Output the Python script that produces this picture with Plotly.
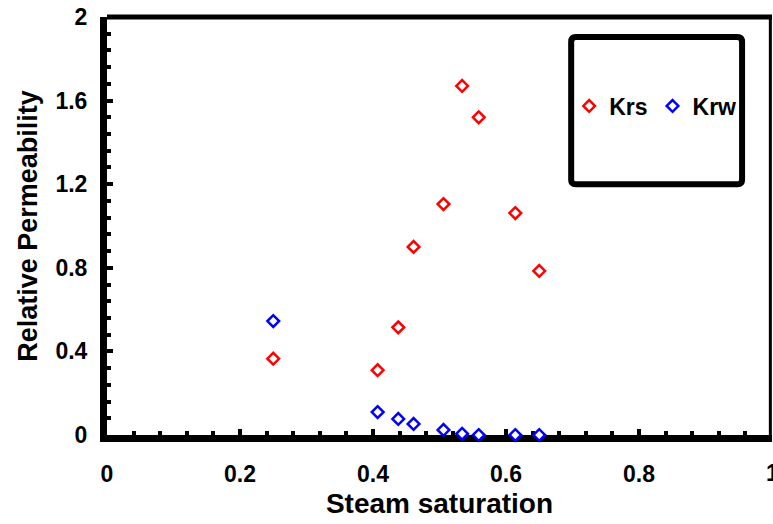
import plotly.graph_objects as go

steam_sat = [0.25, 0.407, 0.438, 0.461, 0.506, 0.534, 0.559, 0.614, 0.65]
krs = [0.365, 0.31, 0.515, 0.90, 1.105, 1.67, 1.52, 1.062, 0.785]
krw = [0.545, 0.11, 0.077, 0.053, 0.024, 0.006, 0.0, 0.0, 0.0]

x_ticks = [0, 0.2, 0.4, 0.6, 0.8, 1]
x_labels = ["0", "0.2", "0.4", "0.6", "0.8", "1"]
y_ticks = [0, 0.4, 0.8, 1.2, 1.6, 2]
y_labels = ["0", "0.4", "0.8", "1.2", "1.6", "2"]

FONT = "Liberation Sans, Arial, sans-serif"
TICKFONT = dict(family=FONT, size=23, color="black", weight="bold")

fig = go.Figure()
fig.add_trace(go.Scatter(x=steam_sat, y=krs, mode="markers", name="Krs", cliponaxis=False,
                         marker=dict(symbol="diamond", size=9, color="white",
                                     line=dict(width=2.5, color="#ff0000"))))
fig.add_trace(go.Scatter(x=steam_sat, y=krw, mode="markers", name="Krw", cliponaxis=False,
                         marker=dict(symbol="diamond", size=9, color="white",
                                     line=dict(width=2.5, color="#0000ff"))))

fig.update_layout(
    width=773, height=524,
    margin=dict(l=107, r=1, t=17, b=89),
    paper_bgcolor="white", plot_bgcolor="white",
    font=dict(family=FONT, color="black"),
    showlegend=True,
    legend=dict(orientation="h", x=0.695, y=0.787, xanchor="left", yanchor="middle",
                bgcolor="rgba(0,0,0,0)", borderwidth=0,
                font=dict(family=FONT, size=23, color="black", weight="bold"),
                itemwidth=30, tracegroupgap=0),
    xaxis=dict(range=[0, 1], tickmode="array", tickvals=x_ticks, ticktext=x_labels,
               showgrid=False, zeroline=False, showline=True, linewidth=7, linecolor="black",
               layer="below traces",
               ticks="inside", ticklen=6, tickwidth=4, tickcolor="black",
               minor=dict(ticks="inside", ticklen=4, tickwidth=4, tickcolor="black", dtick=0.04, showgrid=False),
               tickfont=TICKFONT,
               ticklabelstandoff=12,
               title=dict(text="Steam saturation", font=dict(family=FONT, size=28, color="black", weight="bold"),
                          standoff=10),
               automargin=False),
    yaxis=dict(range=[0, 2], tickmode="array", tickvals=y_ticks, ticktext=y_labels,
               showgrid=False, zeroline=False, showline=True, linewidth=7, linecolor="black",
               layer="below traces",
               ticks="inside", ticklen=6, tickwidth=4, tickcolor="black",
               minor=dict(ticks="inside", ticklen=4, tickwidth=4, tickcolor="black", dtick=0.08, showgrid=False),
               tickfont=TICKFONT,
               ticklabelstandoff=8,
               title=dict(text="Relative Permeability", font=dict(family=FONT, size=27, color="black", weight="bold"),
                          standoff=12),
               automargin=False),
    annotations=[
        dict(text=x_labels[-1], x=x_ticks[-1], xref="x", y=0, yref="paper",
             xanchor="center", yanchor="top", yshift=-23, showarrow=False, font=TICKFONT),
    ],
    shapes=[
        dict(type="line", xref="paper", yref="paper", x0=0, x1=1, y0=1, y1=1,
             line=dict(color="black", width=5)),
        dict(type="line", xref="paper", yref="paper", x0=0.9975, x1=0.9975, y0=0, y1=1,
             line=dict(color="black", width=3)),
        dict(type="path", xref="paper", yref="paper",
             path="M 0.705,0.600 L 0.948,0.600 Q 0.955,0.600 0.955,0.610 L 0.955,0.940 Q 0.955,0.952 0.948,0.952 "
                  "L 0.705,0.952 Q 0.698,0.952 0.698,0.940 L 0.698,0.610 Q 0.698,0.600 0.705,0.600 Z",
             line=dict(color="black", width=6), fillcolor="white", layer="below"),
    ],
)

fig.write_html("out.html")
